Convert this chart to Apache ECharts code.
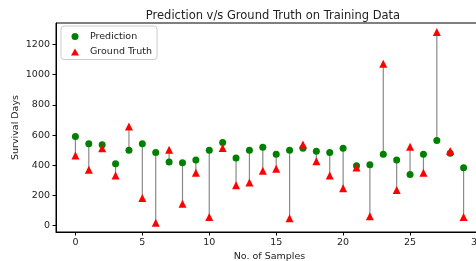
<!DOCTYPE html>
<html>
<head>
<meta charset="utf-8">
<script src="https://cdn.jsdelivr.net/npm/echarts@6/dist/echarts.min.js"></script>
<style>
  html, body { margin: 0; padding: 0; background: #fff; }
  #main { width: 476px; height: 261px; }
</style>
</head>
<body>
<div id="main"></div>
<script>
// sample index 0..29
var samples = [0,1,2,3,4,5,6,7,8,9,10,11,12,13,14,15,16,17,18,19,20,21,22,23,24,25,26,27,28,29];
// model prediction (green dots)
var prediction = [590,543,536,410,499,543,485,421,416,434,499,550,447,499,519,472,499,512,492,485,512,396,403,472,434,338,472,563,479,383];
// ground truth (red triangles)
var groundTruth = [465,370,512,332,657,183,18,503,145,350,56,514,267,285,363,376,49,537,427,332,247,385,62,1073,236,523,350,1284,494,56];
// tick labels
var xTicks = [0,5,10,15,20,25,30];
var yTicks = [0,200,400,600,800,1000,1200];

var font = 'DejaVu Sans';
var chart = echarts.init(document.getElementById('main'));

var predData = [], truthData = [], pairData = [];
for (var i = 0; i < samples.length; i++) {
  predData.push([samples[i], prediction[i]]);
  truthData.push([samples[i], groundTruth[i]]);
  pairData.push([samples[i], prediction[i], groundTruth[i]]);
}

var option = {
  animation: false,
  backgroundColor: '#fff',
  title: {
    text: 'Prediction v/s Ground Truth on Training Data',
    left: 268, top: 5, textAlign: 'center',
    textStyle: { fontFamily: font, fontSize: 11.5, fontWeight: 'normal', color: '#222' }
  },
  legend: {
    left: 61, top: 26, orient: 'vertical',
    padding: [5, 5, 2, 10], itemGap: 4.5,
    itemWidth: 8, itemHeight: 7,
    backgroundColor: '#fff', borderColor: '#ccc', borderWidth: 1, borderRadius: 3,
    textStyle: { fontFamily: font, fontSize: 9.5, lineHeight: 11, color: '#222', padding: [0, 0, 0, 6] },
    data: [{ name: 'Prediction', icon: 'circle' }, { name: 'Ground Truth', icon: 'triangle' }]
  },
  grid: {
    left: 56, right: -7, top: 23, bottom: 29,
    containLabel: false, outerBoundsMode: 'none',
    show: true, borderColor: '#000', borderWidth: 1, backgroundColor: 'transparent'
  },
  xAxis: {
    type: 'value', min: -1.45, max: 30.45,
    name: 'No. of Samples', nameLocation: 'middle', nameGap: 20, nameMoveOverlap: false,
    nameTextStyle: { fontFamily: font, fontSize: 9.5, color: '#222' },
    axisLine: { onZero: false, lineStyle: { color: '#000', width: 1 } },
    axisTick: { show: true, length: 3.5, customValues: xTicks, lineStyle: { color: '#000' } },
    axisLabel: { customValues: xTicks, margin: 6, fontFamily: font, fontSize: 9.5, color: '#222',
      formatter: function (v) { return String(v); } },
    splitLine: { show: false }
  },
  yAxis: {
    type: 'value', min: -43, max: 1343,
    name: 'Survival Days', nameLocation: 'middle', nameGap: 35, nameRotate: 90, nameMoveOverlap: false,
    nameTextStyle: { fontFamily: font, fontSize: 9.5, color: '#222' },
    axisLine: { show: true, onZero: false, lineStyle: { color: '#000', width: 1 } },
    axisTick: { show: true, length: 3.5, customValues: yTicks, lineStyle: { color: '#000' } },
    axisLabel: { customValues: yTicks, margin: 6, fontFamily: font, fontSize: 9.5, color: '#222',
      formatter: function (v) { return String(v); } },
    splitLine: { show: false }
  },
  series: [
    {
      type: 'custom', name: 'pairs', silent: true, z: 1,
      data: pairData,
      encode: { x: 0, y: [1, 2] },
      renderItem: function (params, api) {
        var a = api.coord([api.value(0), api.value(1)]);
        var b = api.coord([api.value(0), api.value(2)]);
        return {
          type: 'line',
          shape: { x1: a[0], y1: a[1], x2: b[0], y2: b[1] },
          style: { stroke: '#8a8a8a', lineWidth: 1.2 }
        };
      }
    },
    {
      type: 'scatter', name: 'Prediction', z: 2,
      symbol: 'circle', symbolSize: 7,
      itemStyle: { color: '#008000', opacity: 1 },
      data: predData
    },
    {
      type: 'scatter', name: 'Ground Truth', z: 3,
      symbol: 'triangle', symbolSize: 8,
      itemStyle: { color: '#ff0000', opacity: 1 },
      data: truthData
    }
  ]
};
chart.setOption(option);
</script>
</body>
</html>
